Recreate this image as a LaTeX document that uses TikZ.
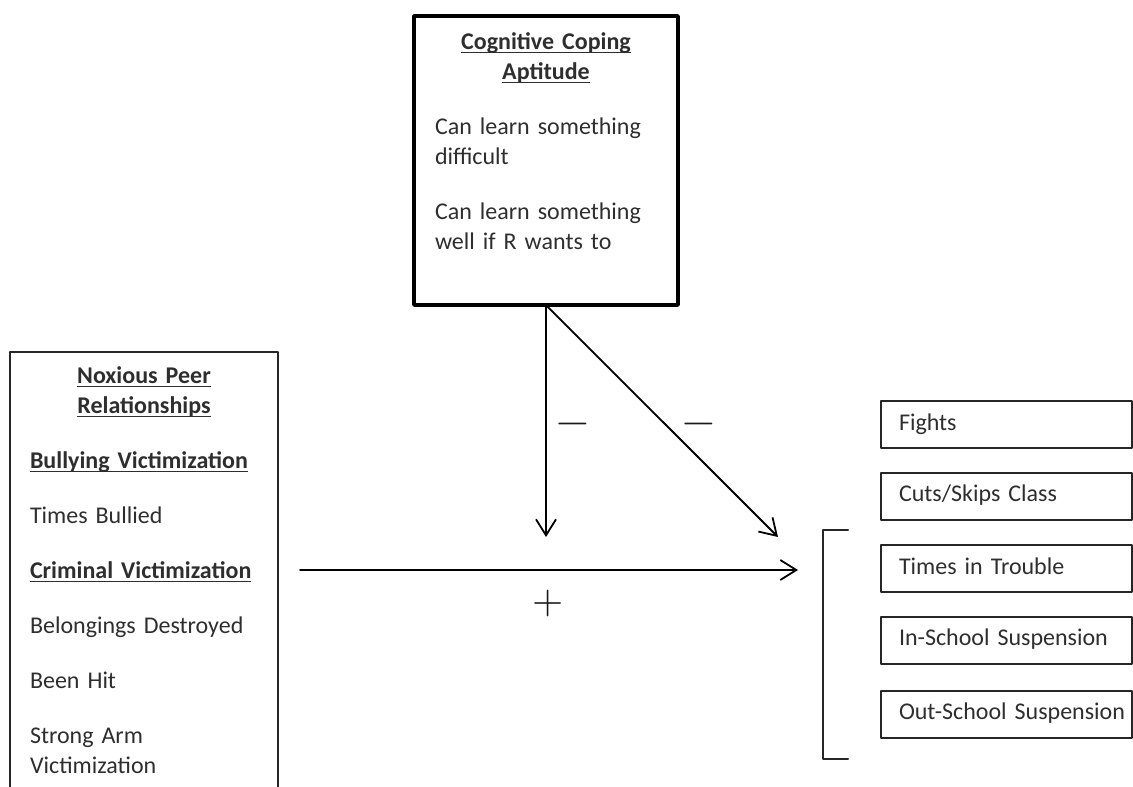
\documentclass[tikz,border=0pt]{standalone}
\usepackage{fontspec}
\usepackage{unicode-math}
\setmainfont{Carlito}
\usetikzlibrary{arrows.meta}

\newcommand{\hdline}[1]{\leavevmode\setbox0\hbox{\bfseries #1}\rlap{\rule[-3pt]{\wd0}{1.3pt}}\box0}

\begin{document}
\begin{tikzpicture}[x=1pt,y=-1pt,line cap=round,line join=round,
  every node/.style={text=black!82,font=\fontsize{24}{30}\selectfont},
  arr/.style={line width=1.8pt,-{Straight Barb[length=16pt,width=20pt,line width=1.8pt]}},
  outbox/.style={draw=black!85,line width=2pt,anchor=west,outer sep=0pt,
    text width=215pt,inner xsep=18pt,minimum height=47pt,
    text height=17pt,text depth=6pt},
  sign/.style={font=\fontsize{40}{40}\selectfont,text=black!90,inner sep=0pt}]
  \useasboundingbox (0,0) rectangle (1133,787);
  \coordinate (vtip) at (546,537);
  \coordinate (dtip) at (778,537);
  \coordinate (hfrom) at (300,570);
  \coordinate (hto) at (798,570);
  \node[draw=black,line width=3.5pt,anchor=north west,outer sep=0pt,
    text width=222pt,inner xsep=21pt,inner ysep=17pt] (cog) at (414,16)
    {{\centering\hdline{Cognitive Coping}\\\hdline{Aptitude}\par}
     \vspace{25pt}
     {\raggedright Can learn something\\difficult\par}
     \vspace{25pt}
     {\raggedright Can learn something\\well if R wants to\par}
     \vspace{38pt}};
  \node[draw=black!85,line width=2pt,anchor=north west,outer sep=0pt,
    text width=228pt,inner xsep=20pt,inner ysep=15pt] (peer) at (10,352)
    {{\centering\hdline{Noxious Peer}\\\hdline{Relationships}\par}
     \vspace{25pt}
     {\raggedright\hdline{Bullying Victimization}\par}
     \vspace{25pt}
     {\raggedright Times Bullied\par}
     \vspace{25pt}
     {\raggedright\hdline{Criminal Victimization}\par}
     \vspace{25pt}
     {\raggedright Belongings Destroyed\par}
     \vspace{25pt}
     {\raggedright Been Hit\par}
     \vspace{25pt}
     {\raggedright Strong Arm\\Victimization\par}
     \vspace{40pt}};
  \node[outbox] (fights) at (881,424.5) {Fights};
  \node[outbox] (cuts) at (881,496) {Cuts/Skips Class};
  \node[outbox] (trouble) at (881,568.5) {Times in Trouble};
  \node[outbox] (inschool) at (881,640) {In-School Suspension};
  \node[outbox] (outschool) at (881,714) {\mbox{Out-School Suspension}};
  \draw[arr] (cog.south) -- (vtip);
  \draw[arr] (cog.south) -- (dtip);
  \draw[arr] (hfrom) -- (hto);
  \draw[line width=2pt,black!85] (848,530) -- (823,530) -- (823,759) -- (848,759);
  \node[sign,font=\fontsize{42}{42}\selectfont] (minusl) at (573,429) {$-$};
  \node[sign,font=\fontsize{42}{42}\selectfont] (minusr) at (699,429) {$-$};
  \node[sign] (plus) at (548,603) {$+$};
\end{tikzpicture}
\end{document}
